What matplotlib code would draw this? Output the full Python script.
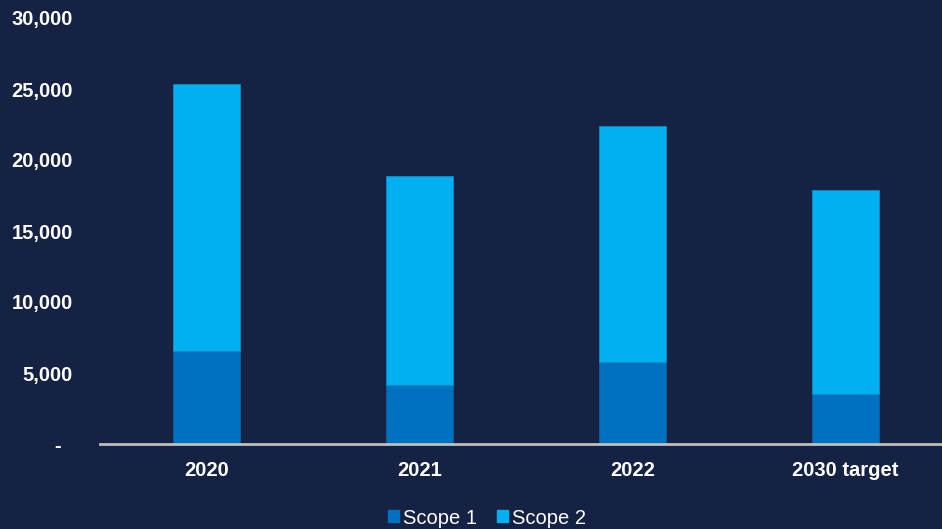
import matplotlib.pyplot as plt
from matplotlib.patches import Patch
from matplotlib.ticker import FuncFormatter

plt.rcParams['font.family'] = ['Liberation Sans', 'DejaVu Sans']

# 温室气体排放 (tCO2e)
years = ['2020', '2021', '2022', '2030 target']
scope1 = [6550, 4130, 5750, 3500]
scope2 = [18830, 14720, 16640, 14420]

bg = '#152244'
c1 = '#0070C0'
c2 = '#00B0F0'

fig = plt.figure(figsize=(9.42, 5.29), dpi=100, facecolor=bg)
ax = fig.add_axes([100 / 942, 85 / 529, 852 / 942, 426 / 529], facecolor=bg)

x = range(len(years))
ax.bar(x, scope1, width=0.315, color=c1, edgecolor='#0D5E9E', linewidth=0.6)
ax.bar(x, scope2, width=0.315, bottom=scope1, color=c2, edgecolor='#0E8CC4', linewidth=0.6)

ax.set_xlim(-0.5, 3.5)
ax.set_ylim(0, 30000)
ax.set_yticks(range(0, 30001, 5000))
ax.yaxis.set_major_formatter(FuncFormatter(lambda v, p: '-  ' if v == 0 else f'{v:,.0f}'))
ax.set_xticks(list(x))
ax.set_xticklabels(years)

for s in ['top', 'right', 'left']:
    ax.spines[s].set_visible(False)
ax.spines['bottom'].set_color('#BFBFBF')
ax.spines['bottom'].set_linewidth(2)

ax.tick_params(axis='y', length=0, pad=19.5, labelsize=14.5, labelcolor='white')
ax.tick_params(axis='x', length=0, pad=12, labelsize=14.5, labelcolor='white')
for lbl in ax.get_xticklabels() + ax.get_yticklabels():
    lbl.set_fontweight('bold')

handles = [Patch(color=c1, label='Scope 1'), Patch(color=c2, label='Scope 2')]
fig.legend(handles=handles, loc='center', bbox_to_anchor=(487 / 942, 1 - 518 / 529),
           ncol=2, frameon=False, fontsize=14.5, labelcolor='white',
           handlelength=0.55, handleheight=0.55, handletextpad=0.2, columnspacing=1.0)

fig.savefig('out.png', dpi=100, facecolor=bg)
